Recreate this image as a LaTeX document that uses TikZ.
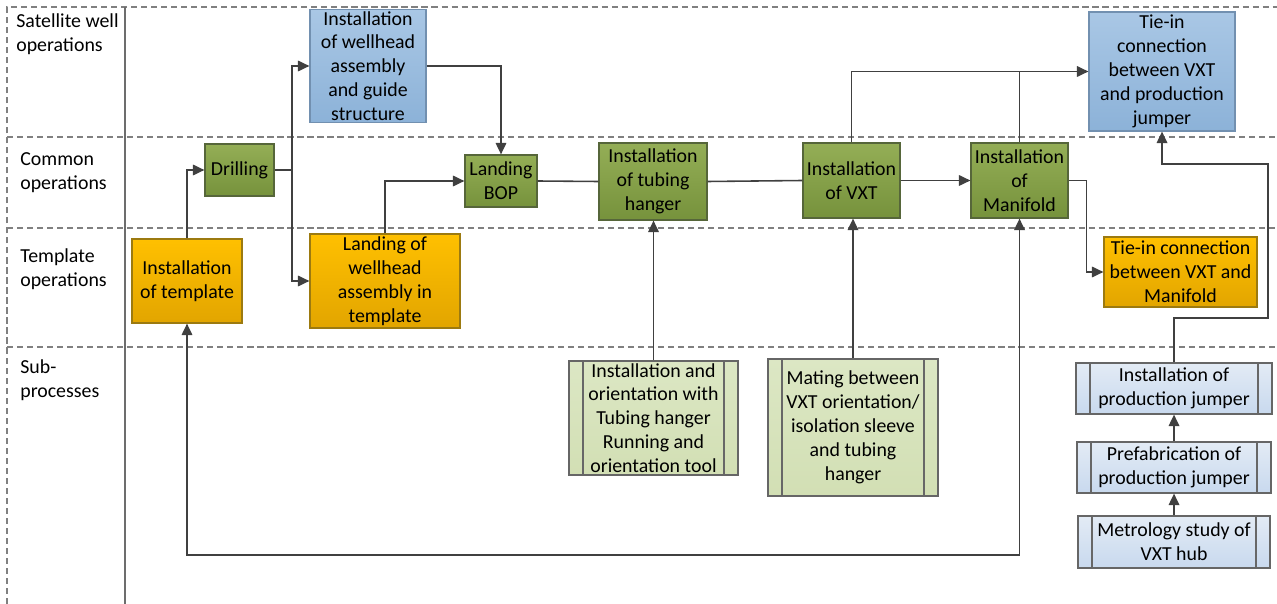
\documentclass[tikz,border=0pt]{standalone}
\usepackage{fontspec}
\setmainfont{Carlito}
\usetikzlibrary{arrows.meta}
\definecolor{linegray}{HTML}{404040}
\definecolor{lanegray}{HTML}{808080}
\definecolor{grtop}{HTML}{94AE56}
\definecolor{grbot}{HTML}{76923C}
\definecolor{grline}{HTML}{56663A}
\definecolor{bltop}{HTML}{A9C7E5}
\definecolor{blbot}{HTML}{8CB2D8}
\definecolor{blline}{HTML}{7290B0}
\definecolor{ortop}{HTML}{FFC000}
\definecolor{orbot}{HTML}{E2A500}
\definecolor{orline}{HTML}{9C7A10}
\definecolor{sgtop}{HTML}{DCE7C4}
\definecolor{sgbot}{HTML}{D2DFB4}
\definecolor{sbtop}{HTML}{E3EBF5}
\definecolor{sbbot}{HTML}{C8D9EE}
\tikzset{
  box/.style={font=\fontsize{11.3}{13.6}\selectfont, align=center, inner sep=1pt, line width=0.7pt},
  greenbox/.style={box, draw=grline, top color=grtop, bottom color=grbot},
  bluebox/.style={box, draw=blline, top color=bltop, bottom color=blbot},
  orangebox/.style={box, draw=orline, top color=ortop, bottom color=orbot},
  subproc/.style={box, draw=lanegray!80!black,
    path picture={
      \draw[lanegray!80!black, line width=0.7pt]
        ([xshift=0.28cm]path picture bounding box.north west) -- ([xshift=0.28cm]path picture bounding box.south west)
        ([xshift=-0.28cm]path picture bounding box.north east) -- ([xshift=-0.28cm]path picture bounding box.south east);
    }},
  subgreen/.style={subproc, top color=sgtop, bottom color=sgbot},
  subblue/.style={subproc, top color=sbtop, bottom color=sbbot},
  lane/.style={font=\fontsize{11.3}{13.6}\selectfont, align=left, anchor=north west, inner sep=0pt},
  conn/.style={draw=linegray, line width=0.9pt},
  flow/.style={conn, -{Triangle[length=6.5pt,width=6pt]}},
  laneline/.style={draw=lanegray, line width=0.6pt, dash pattern=on 3.5pt off 2.2pt}
}
\begin{document}
\begin{tikzpicture}[x=0.02cm, y=-0.02cm]
\useasboundingbox (0,0) rectangle (1277,604);
% lanes
\draw[laneline] (7,604) -- (7,7) -- (1277,7);
\draw[laneline] (7,137) -- (1277,137);
\draw[laneline] (7,228) -- (1277,228);
\draw[laneline] (7,347) -- (1277,347);
\draw[lanegray!85!black, line width=0.6pt] (125,7) -- (125,604);
\node[lane] (lsat) at (16,13) {Satellite well\\operations};
\node[lane] (lcom) at (20,152) {Common\\operations};
\node[lane] (ltmp) at (20,248) {Template\\operations};
\node[lane] (lsub) at (20,359) {Sub-\\processes};
% operations
\node[bluebox, minimum width=2.32cm, minimum height=2.24cm] (wellhead) at (368,66) {Installation\\of wellhead\\assembly\\and guide\\structure};
\node[greenbox, minimum width=1.38cm, minimum height=1.04cm] (drill) at (239.5,170) {Drilling};
\node[orangebox, minimum width=2.2cm, minimum height=1.68cm] (tmpl) at (187,281) {Installation\\of template};
\node[orangebox, minimum width=3cm, minimum height=1.88cm] (landwh) at (385,281) {Landing of\\wellhead\\assembly in\\template};
\node[greenbox, minimum width=1.44cm, minimum height=1.04cm] (bop) at (501,181) {Landing\\BOP};
\node[greenbox, minimum width=2.16cm, minimum height=1.54cm] (tubing) at (653,181.5) {Installation\\of tubing\\hanger};
\node[greenbox, minimum width=1.94cm, minimum height=1.5cm] (vxt) at (851.5,180.5) {Installation\\of VXT};
\node[greenbox, minimum width=1.94cm, minimum height=1.5cm] (manif) at (1019.5,180.5) {Installation\\of\\Manifold};
\node[bluebox, minimum width=2.92cm, minimum height=2.38cm] (tieprod) at (1162,71.5) {Tie-in\\connection\\between VXT\\and production\\jumper};
\node[orangebox, minimum width=3.06cm, minimum height=1.4cm] (tieman) at (1180.5,272) {Tie-in connection\\between VXT and\\Manifold};
% sub-processes
\node[subgreen, minimum width=3.38cm, minimum height=2.28cm] (sub1) at (653.5,418) {Installation and\\orientation with\\Tubing hanger\\Running and\\orientation tool};
\node[subgreen, minimum width=3.4cm, minimum height=2.74cm] (sub2) at (853,427.5) {Mating between\\VXT orientation/\\isolation sleeve\\and tubing\\hanger};
\node[subblue, minimum width=3.92cm, minimum height=1.02cm] (jinst) at (1174,388.5) {Installation of\\production jumper};
\node[subblue, minimum width=3.88cm, minimum height=1.02cm] (jpref) at (1174,467.5) {Prefabrication of\\production jumper};
\node[subblue, minimum width=3.84cm, minimum height=1.04cm] (metro) at (1174,542) {Metrology study of\\VXT hub};
% connectors
\coordinate (split) at (292,170);
\coordinate (loop) at (600,555);
\coordinate (jr1) at (1268,318);
\coordinate (jr2) at (1268,164);
\draw[flow] (tmpl.north) |- (drill.west);
\draw[conn] (drill.east) -- (split);
\draw[flow] (split) |- (wellhead.west);
\draw[flow] (split) |- (landwh.west);
\draw[flow] (wellhead.east) -| (bop.north);
\draw[flow] (landwh.north) |- (bop.west);
\draw[conn] (bop.east) -- (tubing.west);
\draw[conn] (tubing.east) -- (vxt.west);
\draw[flow] (vxt.east) -- (manif.west);
\draw[flow] (vxt.north) |- (tieprod.west);
\draw[conn] (manif.north) -- (manif.north |- tieprod.west);
\draw[flow] (manif.east) -- ++(18,0) |- (tieman.west);
\draw[flow] (sub1.north) -- (sub1.north |- tubing.south);
\draw[flow] (sub2.north) -- (sub2.north |- vxt.south);
\draw[conn, {Triangle[length=6.5pt,width=6pt]}-{Triangle[length=6.5pt,width=6pt]}] (tmpl.south) |- (loop) -| (manif.south);
\draw[flow] (jinst.north) |- (jr1) -- (jr2) -| (tieprod.south);
\draw[flow] (jpref.north) -- (jinst.south);
\draw[flow] (metro.north) -- (jpref.south);
\end{tikzpicture}
\end{document}
